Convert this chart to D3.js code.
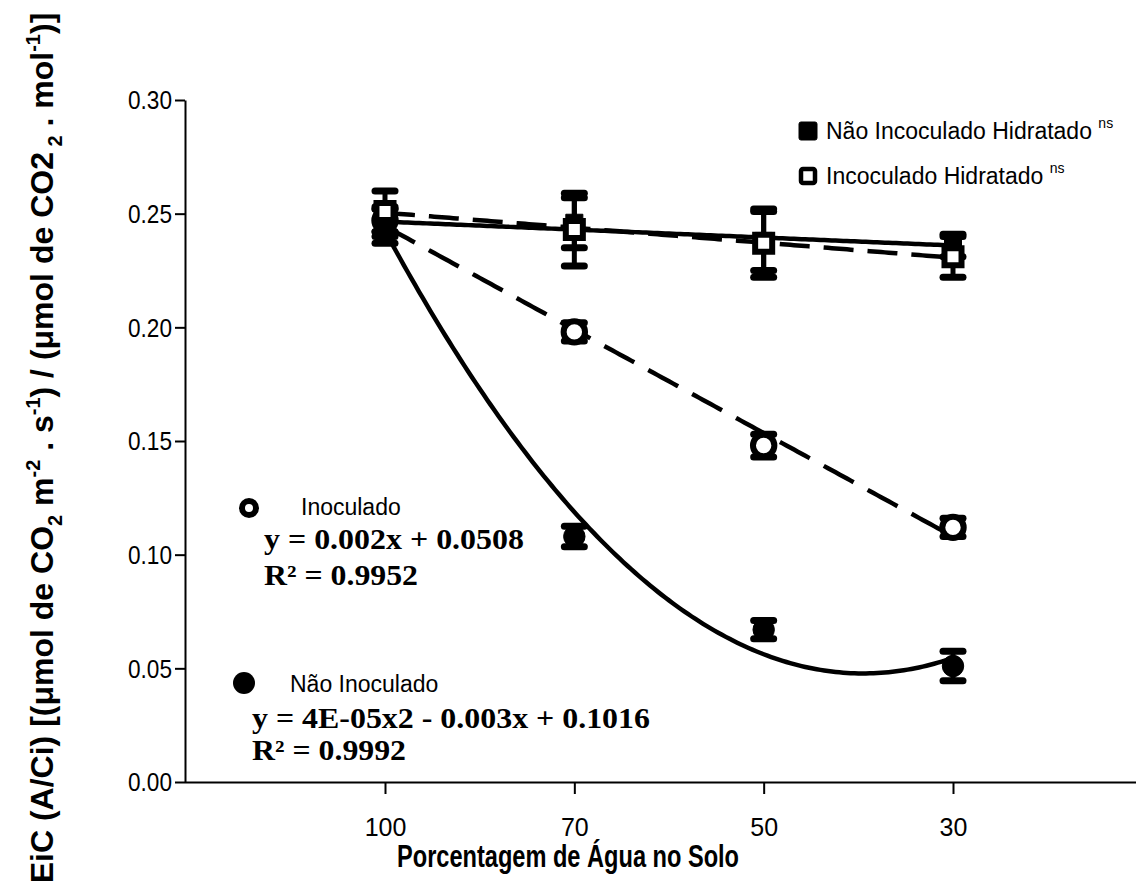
<!DOCTYPE html>
<html>
<head>
<meta charset="utf-8">
<script src="https://cdn.jsdelivr.net/npm/d3@7"></script>
<style>
  body { margin: 0; background: #fff; }
  text { fill: #000; }
  .tick-label { font-family: "Liberation Sans", Arial, sans-serif; font-size: 25px; }
  .legend-label { font-family: "Liberation Sans", Arial, sans-serif; font-size: 23px; }
  .eq { font-family: "Liberation Serif", "Times New Roman", serif; font-weight: bold; font-size: 29px; }
</style>
</head>
<body>
<div id="chart"></div>
<script>
// categories (soil water percentage, shown in this order)
var waterLevels = ["100", "70", "50", "30"];
var yTicks = [0.00, 0.05, 0.10, 0.15, 0.20, 0.25, 0.30];

// series means and error
var naoInocHidratado = [0.245, 0.246, 0.238, 0.236];
var naoInocHidratadoErr = [0.008, 0.011, 0.013, 0.005];
var inocHidratado = [0.251, 0.243, 0.237, 0.231];
var inocHidratadoErr = [0.009, 0.016, 0.015, 0.009];
var inoculado = [0.247, 0.198, 0.148, 0.112];
var inoculadoErr = [0.005, 0.004, 0.005, 0.004];
var naoInoculado = [0.246, 0.108, 0.067, 0.051];
var naoInoculadoErr = [0.006, 0.0045, 0.004, 0.0065];

var width = 1136, height = 895;
var margin = { top: 100, right: 0, bottom: 113, left: 185 };
var innerW = width - margin.left - margin.right,
    innerH = height - margin.top - margin.bottom;

var svg = d3.select("#chart").append("svg")
    .attr("width", width)
    .attr("height", height);

var g = svg.append("g")
    .attr("transform", "translate(" + margin.left + "," + margin.top + ")");

var x = d3.scalePoint()
    .domain(waterLevels)
    .range([200, 768]);

var y = d3.scaleLinear()
    .domain([0, 0.30])
    .range([innerH, 0]);

// ---- fits (least squares on category index) ----
function polyFit(vals, degree) {
    // normal equations, solved with gaussian elimination
    var n = degree + 1;
    var A = [], b = [];
    for (var r = 0; r < n; r++) {
        A.push([]);
        b.push(0);
        for (var c = 0; c < n; c++) {
            var s = 0;
            vals.forEach(function(v, t) { s += Math.pow(t, r + c); });
            A[r].push(s);
        }
        vals.forEach(function(v, t) { b[r] += v * Math.pow(t, r); });
    }
    for (var i = 0; i < n; i++) {
        for (var k = i + 1; k < n; k++) {
            var f = A[k][i] / A[i][i];
            for (var j = i; j < n; j++) A[k][j] -= f * A[i][j];
            b[k] -= f * b[i];
        }
    }
    var coef = new Array(n).fill(0);
    for (var i2 = n - 1; i2 >= 0; i2--) {
        var s2 = b[i2];
        for (var j2 = i2 + 1; j2 < n; j2++) s2 -= A[i2][j2] * coef[j2];
        coef[i2] = s2 / A[i2][i2];
    }
    return function(t) {
        return coef.reduce(function(acc, cc, p) { return acc + cc * Math.pow(t, p); }, 0);
    };
}

var step = x.step();
function tToX(t) { return x(waterLevels[0]) + t * step; }

function fitPath(vals, degree) {
    var f = polyFit(vals, degree);
    var pts = d3.range(0, 3.0001, 0.02).map(function(t) { return [tToX(t), y(f(t))]; });
    return d3.line()(pts);
}

// ---- axes ----
var yAxis = d3.axisLeft(y)
    .tickValues(yTicks)
    .tickFormat(d3.format(".2f"))
    .tickSize(10)
    .tickSizeOuter(0);

var yG = g.append("g").call(yAxis);
yG.select(".domain").attr("stroke-width", 2);
yG.selectAll(".tick line").attr("stroke-width", 2);
yG.selectAll(".tick text").attr("class", "tick-label").attr("x", -13).attr("dy", "0.35em")
    .attr("textLength", 44).attr("lengthAdjust", "spacingAndGlyphs");

var xAxis = d3.axisBottom(x)
    .tickSize(12)
    .tickSizeOuter(0);

var xG = g.append("g")
    .attr("transform", "translate(0," + innerH + ")")
    .call(xAxis);
// bottom axis line runs the full width of the plot
xG.select(".domain").attr("d", "M0,0.5H" + innerW).attr("stroke-width", 2);
xG.selectAll(".tick line").attr("stroke-width", 2);
xG.selectAll(".tick text").attr("class", "tick-label").attr("y", 36);

yG.attr("font-family", null).attr("font-size", null);
xG.attr("font-family", null).attr("font-size", null);

// axis titles
svg.append("text")
    .attr("x", 568)
    .attr("y", 867)
    .attr("text-anchor", "middle")
    .attr("textLength", 342)
    .attr("lengthAdjust", "spacingAndGlyphs")
    .style("font-family", "'Liberation Sans', Arial, sans-serif")
    .style("font-weight", "bold")
    .style("font-size", "32px")
    .text("Porcentagem de Água no Solo");

var yTitle = svg.append("text")
    .attr("transform", "translate(53,448) rotate(-90)")
    .attr("text-anchor", "middle")
    .style("font-family", "'Liberation Sans', Arial, sans-serif")
    .style("font-weight", "bold")
    .style("font-size", "32px");
var supSize = "20px";
yTitle.append("tspan").text("EiC (A/Ci) [(\u03bcmol de CO");
yTitle.append("tspan").attr("dy", 9).style("font-size", supSize).text("2");
yTitle.append("tspan").attr("dy", -9).text(" m");
yTitle.append("tspan").attr("dy", -13).style("font-size", supSize).text("-2");
yTitle.append("tspan").attr("dy", 13).text(" . s");
yTitle.append("tspan").attr("dy", -13).style("font-size", supSize).text("-1");
yTitle.append("tspan").attr("dy", 13).text(") / (\u03bcmol de CO2");
yTitle.append("tspan").attr("dy", 9).style("font-size", supSize).text(" 2");
yTitle.append("tspan").attr("dy", -9).text(" . mol");
yTitle.append("tspan").attr("dy", -13).style("font-size", supSize).text("-1");
yTitle.append("tspan").attr("dy", 13).text(")]");

// ---- fitted lines ----
var lines = g.append("g").attr("fill", "none").attr("stroke", "#000");
lines.append("path").attr("d", fitPath(naoInocHidratado, 1)).attr("stroke-width", 4.5);
lines.append("path").attr("d", fitPath(inocHidratado, 1)).attr("stroke-width", 4.5).attr("stroke-dasharray", "30,14");
lines.append("path").attr("d", fitPath(inoculado, 1)).attr("stroke-width", 4.5).attr("stroke-dasharray", "34,16");
lines.append("path").attr("d", fitPath(naoInoculado, 2)).attr("stroke-width", 4.5);

// ---- error bars and markers ----
function drawSeries(vals, errs, shape, filled) {
    var data = waterLevels.map(function(k, i) { return { k: k, v: vals[i], e: errs[i] }; });
    var s = g.append("g");
    var eb = s.selectAll(".eb").data(data).enter().append("g");
    eb.append("line")
        .attr("x1", function(d) { return x(d.k); })
        .attr("x2", function(d) { return x(d.k); })
        .attr("y1", function(d) { return y(d.v + d.e); })
        .attr("y2", function(d) { return y(d.v - d.e); })
        .attr("stroke", "#000").attr("stroke-width", 5);
    [1, -1].forEach(function(sign) {
        eb.append("line")
            .attr("x1", function(d) { return x(d.k) - 10; })
            .attr("x2", function(d) { return x(d.k) + 10; })
            .attr("y1", function(d) { return y(d.v + sign * d.e); })
            .attr("y2", function(d) { return y(d.v + sign * d.e); })
            .attr("stroke", "#000").attr("stroke-width", 7).attr("stroke-linecap", "round");
    });
    var sym = d3.symbol().type(shape === "square" ? d3.symbolSquare : d3.symbolCircle)
        .size(shape === "square" ? 290 : 360);
    s.selectAll(".mk").data(data).enter().append("path")
        .attr("d", sym)
        .attr("transform", function(d) { return "translate(" + x(d.k) + "," + y(d.v) + ")"; })
        .attr("fill", filled ? "#000" : "#fff")
        .attr("stroke", "#000")
        .attr("stroke-width", filled ? 1 : 6);
}

drawSeries(naoInoculado, naoInoculadoErr, "circle", true);
drawSeries(inoculado, inoculadoErr, "circle", false);
drawSeries(naoInocHidratado, naoInocHidratadoErr, "square", true);
drawSeries(inocHidratado, inocHidratadoErr, "square", false);

// ---- legends ----
var legTop = [
    { label: "Não Incoculado Hidratado", filled: true, y: 131 },
    { label: "Incoculado Hidratado", filled: false, y: 176 }
];
legTop.forEach(function(d) {
    svg.append("rect")
        .attr("x", d.filled ? 799 : 801).attr("y", d.y - (d.filled ? 9 : 7))
        .attr("width", d.filled ? 18 : 14).attr("height", d.filled ? 18 : 14)
        .attr("rx", 2)
        .attr("fill", d.filled ? "#000" : "#fff")
        .attr("stroke", "#000").attr("stroke-width", d.filled ? 1 : 4.5);
    var t = svg.append("text").attr("class", "legend-label")
        .attr("x", 826).attr("y", d.y + 8);
    t.append("tspan").text(d.label + " ");
    t.append("tspan").attr("dy", -11).style("font-size", "14px").text("ns");
});

// equation blocks
svg.append("circle").attr("cx", 249).attr("cy", 508).attr("r", 7)
    .attr("fill", "#fff").attr("stroke", "#000").attr("stroke-width", 6);
svg.append("text").attr("class", "legend-label").attr("x", 301).attr("y", 515).text("Inoculado");
svg.append("text").attr("class", "eq").attr("x", 264).attr("y", 549)
    .attr("textLength", 260).attr("lengthAdjust", "spacingAndGlyphs").text("y = 0.002x + 0.0508");
svg.append("text").attr("class", "eq").attr("x", 264).attr("y", 585)
    .attr("textLength", 154).attr("lengthAdjust", "spacingAndGlyphs").text("R\u00b2 = 0.9952");

svg.append("circle").attr("cx", 244).attr("cy", 683).attr("r", 11).attr("fill", "#000");
svg.append("text").attr("class", "legend-label").attr("x", 290).attr("y", 692).text("Não Inoculado");
svg.append("text").attr("class", "eq").attr("x", 252).attr("y", 728)
    .attr("textLength", 398).attr("lengthAdjust", "spacingAndGlyphs").text("y = 4E-05x2 - 0.003x + 0.1016");
svg.append("text").attr("class", "eq").attr("x", 252).attr("y", 760)
    .attr("textLength", 154).attr("lengthAdjust", "spacingAndGlyphs").text("R\u00b2 = 0.9992");
</script>
</body>
</html>
